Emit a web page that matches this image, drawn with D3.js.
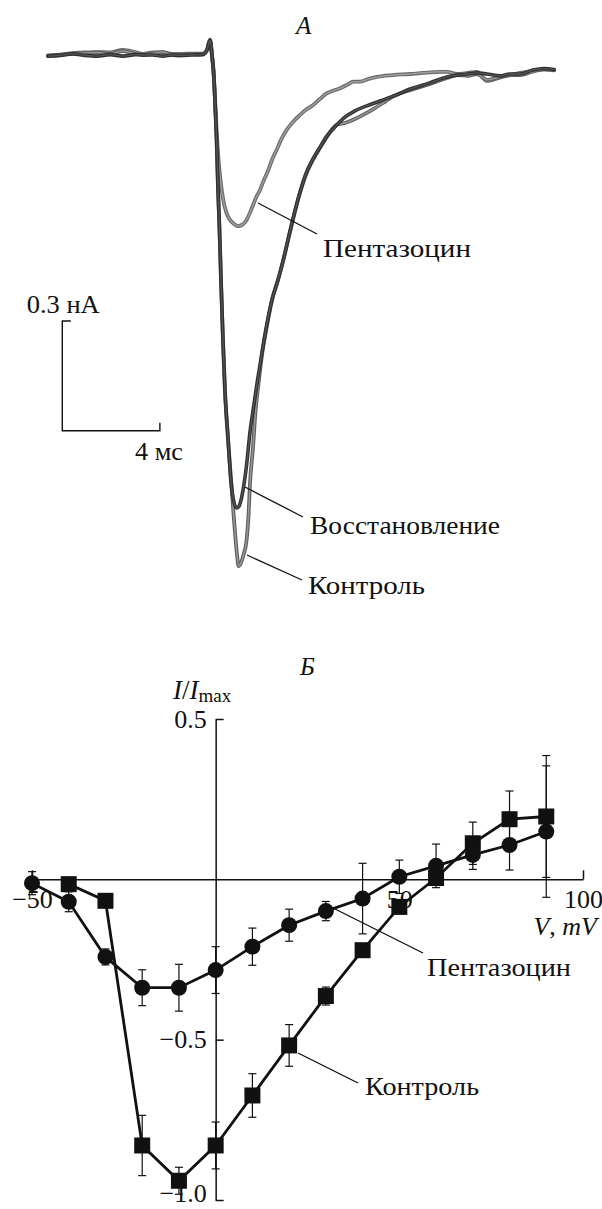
<!DOCTYPE html>
<html>
<head>
<meta charset="utf-8">
<script src="https://cdn.jsdelivr.net/npm/d3@7/dist/d3.min.js"></script>
<style>
  html, body { margin: 0; padding: 0; background: #fff; }
  svg { display: block; }
  text { font-family: "Liberation Serif", "Times New Roman", serif; fill: #111; }
</style>
</head>
<body>
<svg id="fig" width="602" height="1209"></svg>
<script>
// ---- Panel A: current traces, [time (ms), current (nA)] ----
const traceControl = [
  [0,-0.003],[0.49,0],[1.02,0.004],[1.52,0.005],[2.01,0.007],[2.54,0.003],[3.07,0.011],[3.57,0.003],
  [3.89,0],[4.30,0.004],[4.71,0.008],[5.08,0],[5.41,-0.001],[5.90,0.003],[6.35,0.003],[6.52,0.014],
  [6.64,0.042],[6.72,0],[6.78,-0.041],[6.84,-0.115],[6.91,-0.232],[6.97,-0.369],[7.03,-0.479],
  [7.09,-0.615],[7.17,-0.780],[7.25,-0.916],[7.38,-1.053],[7.52,-1.176],[7.64,-1.286],[7.75,-1.368],
  [7.81,-1.398],[7.91,-1.389],[8.01,-1.368],[8.14,-1.327],[8.22,-1.258],[8.28,-1.171],[8.40,-1.075],
  [8.50,-0.979],[8.63,-0.897],[8.77,-0.821],[8.98,-0.739],[9.18,-0.670],[9.43,-0.615],[9.67,-0.555],
  [9.92,-0.484],[10.12,-0.429],[10.33,-0.377],[10.57,-0.328],[10.86,-0.287],[11.15,-0.254],
  [11.43,-0.224],[11.84,-0.191],[12.17,-0.186],[12.58,-0.175],[12.99,-0.161],[13.40,-0.145],
  [13.85,-0.126],[14.18,-0.112],[14.84,-0.096],[15.53,-0.082],[16.35,-0.063],[16.76,-0.055],
  [17.21,-0.057],[17.58,-0.052],[17.99,-0.068],[18.52,-0.060],[18.93,-0.055],[19.34,-0.055],
  [19.88,-0.045],[20.33,-0.038],[20.74,-0.041]
];
const traceRecovery = [
  [0,-0.003],[0.49,-0.001],[1.02,0.003],[1.52,-0.001],[2.01,-0.003],[2.54,0.001],[3.07,-0.003],
  [3.57,0.001],[3.89,0],[4.30,0],[4.71,-0.003],[5.08,0],[5.41,-0.001],[5.90,0],[6.35,0.001],
  [6.52,0.014],[6.64,0.041],[6.72,0],[6.78,-0.041],[6.84,-0.115],[6.91,-0.232],[6.97,-0.369],
  [7.03,-0.479],[7.09,-0.615],[7.17,-0.774],[7.25,-0.911],[7.38,-1.048],[7.50,-1.168],[7.60,-1.217],
  [7.73,-1.239],[7.83,-1.234],[7.93,-1.212],[8.01,-1.184],[8.14,-1.121],[8.28,-1.031],[8.44,-0.957],
  [8.57,-0.897],[8.69,-0.848],[8.89,-0.766],[9.18,-0.670],[9.43,-0.615],[9.67,-0.553],[9.92,-0.481],
  [10.12,-0.427],[10.33,-0.375],[10.57,-0.325],[10.86,-0.284],[11.15,-0.252],[11.43,-0.222],
  [11.84,-0.191],[12.17,-0.170],[12.58,-0.153],[13.07,-0.139],[13.61,-0.126],[14.18,-0.112],
  [14.84,-0.093],[15.53,-0.079],[16.35,-0.060],[16.76,-0.055],[17.21,-0.052],[17.58,-0.049],
  [17.99,-0.052],[18.52,-0.057],[18.93,-0.052],[19.34,-0.052],[19.88,-0.041],[20.33,-0.037],
  [20.74,-0.040]
];
const tracePentazocine = [
  [0,-0.001],[0.49,0.001],[1.02,0.005],[1.52,0.007],[2.01,0.008],[2.54,0.007],[3.07,0.014],
  [3.57,0.008],[3.89,0.003],[4.30,0.007],[4.71,0.007],[5.08,0.003],[5.41,0.003],[5.90,0.004],
  [6.35,0.004],[6.52,0.014],[6.64,0.041],[6.72,0],[6.78,-0.041],[6.84,-0.115],[6.91,-0.205],
  [6.99,-0.287],[7.07,-0.342],[7.17,-0.391],[7.30,-0.429],[7.46,-0.451],[7.62,-0.462],[7.80,-0.468],
  [7.95,-0.465],[8.14,-0.451],[8.36,-0.418],[8.52,-0.391],[8.69,-0.369],[8.85,-0.342],[9.03,-0.315],
  [9.18,-0.287],[9.37,-0.260],[9.55,-0.232],[9.78,-0.205],[10.04,-0.183],[10.33,-0.164],[10.57,-0.150],
  [10.87,-0.137],[11.15,-0.120],[11.42,-0.105],[11.68,-0.098],[11.97,-0.091],[12.25,-0.082],
  [12.51,-0.073],[12.79,-0.073],[13.11,-0.066],[13.48,-0.060],[14.14,-0.055],[14.84,-0.052],
  [15.53,-0.048],[16.07,-0.046],[16.35,-0.046],[16.76,-0.052],[17.21,-0.049],[17.58,-0.046],
  [17.99,-0.071],[18.52,-0.062],[18.93,-0.055],[19.34,-0.049],[19.88,-0.044],[20.33,-0.040],
  [20.74,-0.042]
];
const scaleBarTime = 4;      // ms
const scaleBarCurrent = 0.3; // nA

// ---- Panel B: normalised I–V relation ----
const voltPentazocine = [-50, -40, -30, -20, -10, 0, 10, 20, 30, 40, 50, 60, 70, 80, 90];
const iPentazocine    = [-0.012, -0.07, -0.242, -0.338, -0.338, -0.283, -0.21, -0.143, -0.099, -0.06, 0.008, 0.042, 0.076, 0.107, 0.149];
const errPentazocine  = [0.036, 0.031, 0.025, 0.056, 0.073, 0.073, 0.058, 0.05, 0.03, 0.11, 0.052, 0.068, 0.045, 0.078, 0.205];

const voltControl = [-40, -30, -20, -10, 0, 10, 20, 30, 40, 50, 60, 70, 80, 90];
const iControl    = [-0.015, -0.067, -0.83, -0.94, -0.83, -0.674, -0.518, -0.364, -0.221, -0.086, 0.004, 0.1125, 0.1875, 0.196];
const errControl  = [0.02, 0.02, 0.094, 0.042, 0.073, 0.068, 0.065, 0.028, 0.02, 0.02, 0.02, 0.066, 0.088, 0.19];

const xTicks = [-50, 50, 100];
const yTicks = [0.5, -0.5, -1.0];
const yTickLabels = ["0.5", "\u22120.5", "\u22121.0"];
const xTickLabels = ["\u221250", "50", "100"];

const svg = d3.select("#fig");
svg.append("rect").attr("width", 602).attr("height", 1209).attr("fill", "#fff");

// ================= Panel A =================
const tScale = d3.scaleLinear().domain([0, 20.74]).range([48, 554]);
const iScale = d3.scaleLinear().domain([0, -1.4]).range([55, 55 + 1.4 * 365.6]);

const traceLine = d3.line()
  .x(d => tScale(d[0]))
  .y(d => iScale(d[1]))
  .curve(d3.curveMonotoneX);

const gA = svg.append("g");
function drawTrace(data, edge, core, wOuter, wInner) {
  gA.append("path").attr("d", traceLine(data)).attr("fill", "none")
    .attr("stroke", edge).attr("stroke-width", wOuter)
    .attr("stroke-linejoin", "round").attr("stroke-linecap", "round");
  gA.append("path").attr("d", traceLine(data)).attr("fill", "none")
    .attr("stroke", core).attr("stroke-width", wInner)
    .attr("stroke-linejoin", "round").attr("stroke-linecap", "round");
}
drawTrace(tracePentazocine, "#6a6a6a", "#9d9d9d", 3.8, 1.5);
drawTrace(traceControl, "#5e5e5e", "#979797", 3.8, 1.5);
drawTrace(traceRecovery, "#2e2e2e", "#555", 3.6, 1.3);

svg.append("text").attr("x", 296).attr("y", 34)
  .attr("font-size", 25).attr("font-style", "italic").text("\u0410");

// trace labels with leader lines
const leadersA = [
  { x1: 258, y1: 203, x2: 317, y2: 234, tx: 323, ty: 257, w: 148, label: "Пентазоцин" },
  { x1: 245, y1: 487, x2: 303, y2: 517, tx: 310, ty: 534, w: 190, label: "Восстановление" },
  { x1: 247, y1: 555, x2: 302, y2: 580, tx: 308, ty: 594, w: 117, label: "Контроль" }
];
leadersA.forEach(l => {
  gA.append("line").attr("x1", l.x1).attr("y1", l.y1).attr("x2", l.x2).attr("y2", l.y2)
    .attr("stroke", "#111").attr("stroke-width", 1.3);
  gA.append("text").attr("x", l.tx).attr("y", l.ty).attr("font-size", 26)
    .attr("textLength", l.w).attr("lengthAdjust", "spacingAndGlyphs").text(l.label);
});

// scale bars
const sbX = 62.3, sbY = 430.7;
const sbW = tScale(scaleBarTime) - tScale(0);
const sbH = iScale(-scaleBarCurrent) - iScale(0);
gA.append("path")
  .attr("d", `M${sbX + 8.5},${sbY - sbH}H${sbX}V${sbY}H${sbX + sbW}V${sbY - 8}`)
  .attr("fill", "none").attr("stroke", "#111").attr("stroke-width", 1.4);
gA.append("text").attr("x", 26.7).attr("y", 313).attr("font-size", 26)
  .attr("textLength", 73).attr("lengthAdjust", "spacingAndGlyphs").text("0.3 нА");
gA.append("text").attr("x", 135).attr("y", 460).attr("font-size", 26)
  .attr("textLength", 48).attr("lengthAdjust", "spacingAndGlyphs").text("4 мс");

// ================= Panel B =================
const x = d3.scaleLinear().domain([-50, 100]).range([32, 583]);
const y = d3.scaleLinear().domain([-1, 0.5]).range([1200, 719]);
const gB = svg.append("g");

// y axis (ticks point right, labels to the left)
const yAxis = d3.axisLeft(y).tickValues(yTicks).tickSizeInner(-8).tickSizeOuter(0).tickPadding(9)
  .tickFormat((d, i) => yTickLabels[i]);
const gy = gB.append("g").attr("transform", `translate(${x(0)},0)`).call(yAxis);
gy.select(".domain").attr("stroke", "#111").attr("stroke-width", 1.5);
gy.selectAll(".tick line").attr("stroke", "#111").attr("stroke-width", 1.5);
gy.selectAll(".tick text").attr("font-size", 26).attr("fill", "#111")
  .attr("dy", d => d === -1 ? "0.05em" : "0.32em");

// x axis (ticks point up)
const xAxis = d3.axisBottom(x).tickValues(xTicks).tickSizeInner(-9).tickSizeOuter(0).tickPadding(10)
  .tickFormat((d, i) => xTickLabels[i]);
const gx = gB.append("g").attr("transform", `translate(0,${y(0)})`).call(xAxis);
gx.select(".domain").attr("stroke", "#111").attr("stroke-width", 1.5);
gx.selectAll(".tick line").attr("stroke", "#111").attr("stroke-width", 1.5);
gx.selectAll(".tick text").attr("font-size", 26).attr("fill", "#111");

// axis titles
gB.append("text").attr("x", 300).attr("y", 675).attr("font-size", 25).attr("font-style", "italic").text("Б");
const yl = gB.append("text").attr("x", 173).attr("y", 699).attr("font-size", 27);
yl.append("tspan").attr("font-style", "italic").text("I");
yl.append("tspan").text("/");
yl.append("tspan").attr("font-style", "italic").text("I");
yl.append("tspan").attr("font-size", 19).attr("dy", 3).text("max");
const xl = gB.append("text").attr("x", 597).attr("y", 935).attr("font-size", 26).attr("text-anchor", "end");
xl.append("tspan").attr("font-style", "italic").text("V");
xl.append("tspan").text(", ");
xl.append("tspan").attr("font-style", "italic").text("mV");

// series
const pen = voltPentazocine.map((v, i) => ({ v, i: iPentazocine[i], e: errPentazocine[i] }));
const ctl = voltControl.map((v, i) => ({ v, i: iControl[i], e: errControl[i] }));
const ivLine = d3.line().x(d => x(d.v)).y(d => y(d.i));

function errorBars(data) {
  const g = gB.append("g").attr("stroke", "#111").attr("stroke-width", 1.2);
  data.forEach(d => {
    const cx = x(d.v), y1 = y(d.i + d.e), y2 = y(d.i - d.e);
    g.append("line").attr("x1", cx).attr("x2", cx).attr("y1", y1).attr("y2", y2);
    g.append("line").attr("x1", cx - 4).attr("x2", cx + 4).attr("y1", y1).attr("y2", y1);
    g.append("line").attr("x1", cx - 4).attr("x2", cx + 4).attr("y1", y2).attr("y2", y2);
  });
}
errorBars(pen);
errorBars(ctl);

gB.append("path").attr("d", ivLine(pen)).attr("fill", "none").attr("stroke", "#111").attr("stroke-width", 2.8);
gB.append("path").attr("d", ivLine(ctl)).attr("fill", "none").attr("stroke", "#111").attr("stroke-width", 2.8);

gB.append("g").selectAll("circle").data(pen).join("circle")
  .attr("cx", d => x(d.v)).attr("cy", d => y(d.i)).attr("r", 8).attr("fill", "#111");
gB.append("g").selectAll("rect").data(ctl).join("rect")
  .attr("x", d => x(d.v) - 8).attr("y", d => y(d.i) - 8).attr("width", 16).attr("height", 16).attr("fill", "#111");

// series labels
const leadersB = [
  { x1: 327, y1: 905, x2: 423, y2: 953, tx: 427, ty: 976, w: 144, label: "Пентазоцин" },
  { x1: 298, y1: 1053, x2: 358, y2: 1083, tx: 365, ty: 1095, w: 114, label: "Контроль" }
];
leadersB.forEach(l => {
  gB.append("line").attr("x1", l.x1).attr("y1", l.y1).attr("x2", l.x2).attr("y2", l.y2)
    .attr("stroke", "#111").attr("stroke-width", 1.3);
  gB.append("text").attr("x", l.tx).attr("y", l.ty).attr("font-size", 26)
    .attr("textLength", l.w).attr("lengthAdjust", "spacingAndGlyphs").text(l.label);
});
</script>
</body>
</html>
